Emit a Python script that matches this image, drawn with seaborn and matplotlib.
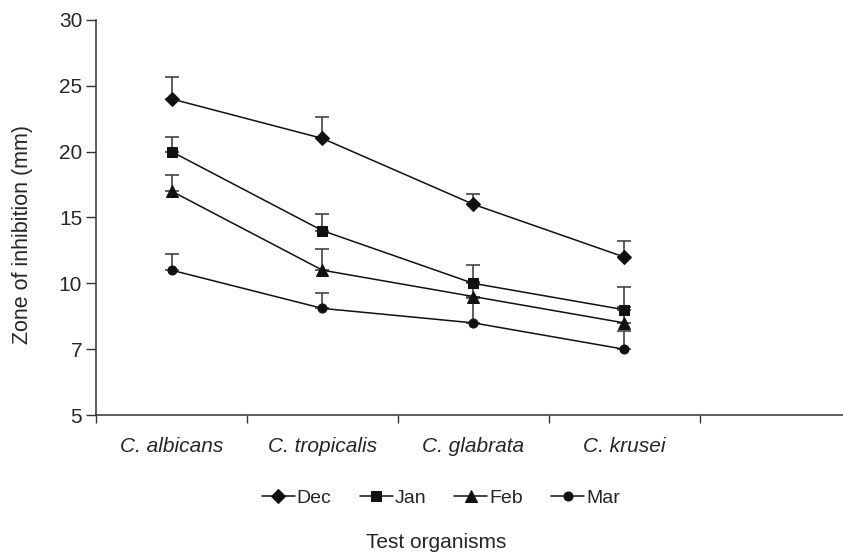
import numpy as np
import pandas as pd
import matplotlib
matplotlib.use("Agg")
import matplotlib.pyplot as plt
import seaborn as sns

# ====================== DATA ======================

organisms = ["C. albicans", "C. tropicalis", "C. glabrata", "C. krusei"]
months    = ["Dec", "Jan", "Feb", "Mar"]

# values on the drawn (linear) axis
dec = [24.0, 21.0, 16.0, 12.0]
jan = [20.0, 14.0, 10.0, 8.0]
feb = [17.0, 11.0, 9.0, 7.0]
mar = [11.0, 8.1, 7.0, 5.0]

# upper error bars
dec_err = [1.7, 1.6, 0.75, 1.2]
jan_err = [1.1, 1.25, 1.4, 1.7]
feb_err = [1.2, 1.6, 1.1, 1.2]
mar_err = [1.2, 1.15, 1.9, 1.4]

ytick_vals   = [0, 5, 10, 15, 20, 25, 30]
ytick_labels = ["5", "7", "10", "15", "20", "25", "30"]

markers = {"Dec": "D", "Jan": "s", "Feb": "^", "Mar": "o"}
msizes  = {"Dec": 7, "Jan": 7.5, "Feb": 8, "Mar": 6.5}

# ====================== PLOT ======================

sns.set_style("ticks")
plt.rcParams["font.family"] = ["Liberation Sans", "DejaVu Sans"]

series = {"Dec": (dec, dec_err), "Jan": (jan, jan_err),
          "Feb": (feb, feb_err), "Mar": (mar, mar_err)}

rows = []
for m in months:
    for org, v in zip(organisms, series[m][0]):
        rows.append({"organism": org, "month": m, "value": v})
df = pd.DataFrame(rows)

fig = plt.figure(figsize=(8.43, 5.52), dpi=100)
ax = fig.add_axes([0.114, 0.248, 0.886, 0.716])

xpos = np.arange(len(organisms))
for m in months:
    vals, err = series[m]
    ax.errorbar(xpos, vals, yerr=[np.zeros(len(err)), err], fmt="none",
                ecolor="#444444", elinewidth=1.2, capsize=5, capthick=1.2, zorder=1)

for m in months:
    sub = df[df["month"] == m]
    sns.lineplot(data=sub, x="organism", y="value", ax=ax, color="#111111",
                 marker=markers[m], markersize=msizes[m], markeredgecolor="#111111",
                 linewidth=1.1, label=m, sort=False, zorder=3)

ax.set_ylim(0, 30)
ax.set_yticks(ytick_vals)
ax.set_yticklabels(ytick_labels, fontsize=15)
ax.set_xlim(-0.5, 4.45)
ax.set_xticks(np.arange(len(organisms) + 1) - 0.5)
ax.set_xticklabels([])
ax.set_xticks(xpos, minor=True)
ax.set_xticklabels(organisms, minor=True, fontsize=15, style="italic")
ax.tick_params(axis="x", which="minor", length=0, pad=16)
ax.tick_params(axis="x", which="major", length=6, width=1, color="#333333")
ax.tick_params(axis="y", length=7, width=1, color="#333333", pad=3)

sns.despine(ax=ax)
for s in ["left", "bottom"]:
    ax.spines[s].set_linewidth(1.1)
    ax.spines[s].set_color("#333333")

ax.set_xlabel("")
ax.set_ylabel("Zone of inhibition (mm)", fontsize=15.5)
ax.yaxis.set_label_coords(-0.084, 0.456)

handles, labels = ax.get_legend_handles_labels()
ax.legend(handles, labels, loc="center", bbox_to_anchor=(0.523, 0.098),
          bbox_transform=fig.transFigure, ncol=4, frameon=False,
          fontsize=14, handlelength=1.7, handletextpad=0.1, columnspacing=1.45)

fig.text(0.518, 0.018, "Test organisms", ha="center", va="center", fontsize=15)

plt.savefig("out.png", dpi=100)
